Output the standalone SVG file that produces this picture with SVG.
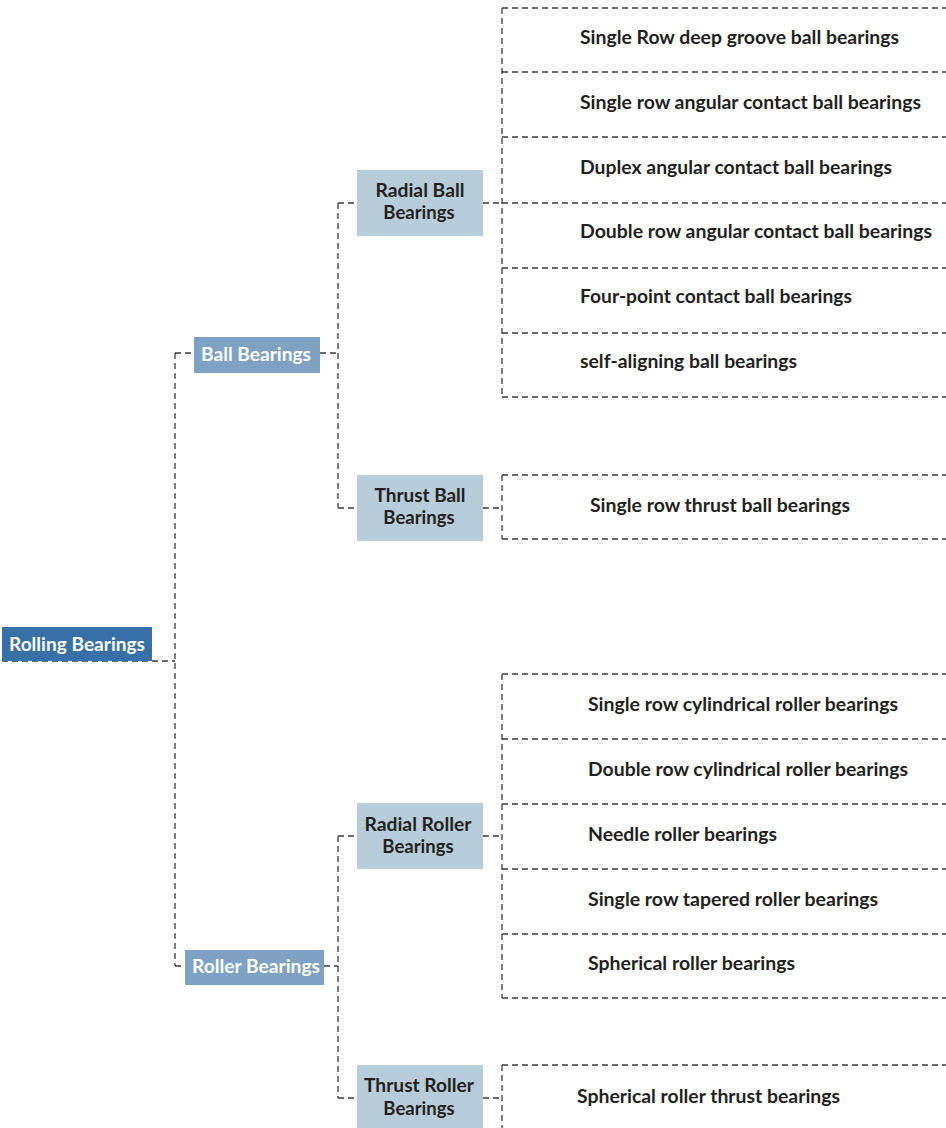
<svg xmlns="http://www.w3.org/2000/svg" width="946" height="1128" viewBox="0 0 946 1128">
<style>
.c{fill:none;stroke:#3e3a3a;stroke-width:1.3;stroke-dasharray:6 4}
.t{font-family:Lato,"Open Sans",sans-serif;font-weight:bold;font-size:18px;fill:#231f20}
.w{font-family:Lato,"Open Sans",sans-serif;font-weight:bold;font-size:18.5px;fill:#ffffff;text-anchor:middle}
.d{font-family:Lato,"Open Sans",sans-serif;font-weight:bold;font-size:18.5px;fill:#231f20;text-anchor:middle}
.l1{fill:#3670a6}.l2{fill:#7ea1c4}.l3{fill:#b8cdda}
</style>
<rect width="946" height="1128" fill="#ffffff"/>
<g id="connectors">
<path class="c" d="M2 661H175M175 353V966M175 353H194M175 966H185"/>
<path class="c" d="M320 353H338M338 203V508M338 203H357M338 508H357"/>
<path class="c" d="M324 966H338M338 836V1098M338 836H357M338 1098H357"/>
<path class="c" d="M483 203H502M483 508H502M483 836H502M483 1098H502"/>
</g>
<g id="root"><rect class="l1" x="2" y="627" width="150" height="34"/><text class="w" x="77" y="651" textLength="136" lengthAdjust="spacingAndGlyphs">Rolling Bearings</text></g>
<g id="ball"><rect class="l2" x="194" y="337" width="126" height="36"/><text class="w" x="256" y="361" textLength="110" lengthAdjust="spacingAndGlyphs">Ball Bearings</text></g>
<g id="roller"><rect class="l2" x="185" y="950" width="139" height="35"/><text class="w" x="256" y="973" textLength="128" lengthAdjust="spacingAndGlyphs">Roller Bearings</text></g>
<g id="radial-ball"><rect class="l3" x="357" y="170" width="126" height="66"/><text class="d" x="420" y="197" textLength="89" lengthAdjust="spacingAndGlyphs">Radial Ball</text><text class="d" x="419" y="219">Bearings</text></g>
<g id="thrust-ball"><rect class="l3" x="357" y="475" width="126" height="66"/><text class="d" x="420" y="502" textLength="91" lengthAdjust="spacingAndGlyphs">Thrust Ball</text><text class="d" x="419" y="524">Bearings</text></g>
<g id="radial-roller"><rect class="l3" x="357" y="803" width="126" height="66"/><text class="d" x="418" y="831" textLength="107" lengthAdjust="spacingAndGlyphs">Radial Roller</text><text class="d" x="418" y="853">Bearings</text></g>
<g id="thrust-roller"><rect class="l3" x="357" y="1065" width="126" height="66"/><text class="d" x="419" y="1092" textLength="110" lengthAdjust="spacingAndGlyphs">Thrust Roller</text><text class="d" x="419" y="1115">Bearings</text></g>
<g id="radial-ball-types">
<path class="c" d="M502 8V397M502 8H946M502 72H946M502 137H946M502 203H946M502 268H946M502 333H946M502 397H946"/>
<text class="t" x="580" y="44" textLength="319" lengthAdjust="spacingAndGlyphs">Single Row deep groove ball bearings</text>
<text class="t" x="580" y="109" textLength="341" lengthAdjust="spacingAndGlyphs">Single row angular contact ball bearings</text>
<text class="t" x="580" y="174" textLength="312" lengthAdjust="spacingAndGlyphs">Duplex angular contact ball bearings</text>
<text class="t" x="580" y="238" textLength="352" lengthAdjust="spacingAndGlyphs">Double row angular contact ball bearings</text>
<text class="t" x="580" y="303" textLength="272" lengthAdjust="spacingAndGlyphs">Four-point contact ball bearings</text>
<text class="t" x="580" y="368" textLength="217" lengthAdjust="spacingAndGlyphs">self-aligning ball bearings</text>
</g>
<g id="thrust-ball-types">
<path class="c" d="M502 475V539M502 475H946M502 539H946"/>
<text class="t" x="590" y="512" textLength="260" lengthAdjust="spacingAndGlyphs">Single row thrust ball bearings</text>
</g>
<g id="radial-roller-types">
<path class="c" d="M502 674V998M502 674H946M502 739H946M502 804H946M502 869H946M502 934H946M502 998H946"/>
<text class="t" x="588" y="711" textLength="310" lengthAdjust="spacingAndGlyphs">Single row cylindrical roller bearings</text>
<text class="t" x="588" y="776" textLength="320" lengthAdjust="spacingAndGlyphs">Double row cylindrical roller bearings</text>
<text class="t" x="588" y="841" textLength="189" lengthAdjust="spacingAndGlyphs">Needle roller bearings</text>
<text class="t" x="588" y="906" textLength="290" lengthAdjust="spacingAndGlyphs">Single row tapered roller bearings</text>
<text class="t" x="588" y="970" textLength="207" lengthAdjust="spacingAndGlyphs">Spherical roller bearings</text>
</g>
<g id="thrust-roller-types">
<path class="c" d="M502 1065V1130M502 1065H946"/>
<text class="t" x="577" y="1103" textLength="263" lengthAdjust="spacingAndGlyphs">Spherical roller thrust bearings</text>
</g>
</svg>
